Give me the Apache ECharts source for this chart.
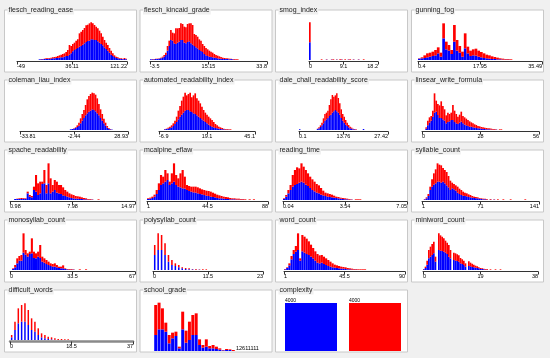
<!DOCTYPE html>
<html><head><meta charset="utf-8">
<script src="https://cdn.jsdelivr.net/npm/echarts@6/dist/echarts.min.js"></script>
<style>html,body{margin:0;padding:0;background:#f0f0f0;overflow:hidden}#c{width:550px;height:358px}</style>
</head><body><div id="c"></div><script>
// ---------- DATA (bar heights, total = blue + red) ----------
const fleschReadingEaseTotal=[0,0,0,0,0,0,0,0,0,0,0,0,0,2,3,3,4,5,5,6,7,8,9,10,12,14,16,18,20,24,30,45,42,48,52,58,62,80,85,90,96,104,106,110,113,110,105,100,95,88,80,70,60,52,45,36,28,20,14,10,8,6,5,4,6,4];
const fleschReadingEaseBlue=[0,0,0,0,0,0,0,0,0,0,0,0,0,2,2,2,3,3,3,4,4,5,5,6,6,7,8,8,10,12,12,16,20,26,30,33,36,40,42,46,50,54,57,58,62,62,60,60,56,52,48,44,38,33,28,22,16,12,9,6,5,4,3,2,3,2];
const fleschKincaidTotal=[2,3,3,4,4,5,7,10,15,22,42,58,90,82,80,95,95,96,110,108,100,98,108,110,110,105,78,75,70,62,58,48,42,36,32,28,25,22,18,15,13,11,9,7,6,5,5,4,4,3,3,2,2];
const fleschKincaidBlue=[2,2,2,3,3,4,5,7,10,15,28,42,60,58,50,48,52,55,60,60,52,50,54,56,50,46,42,38,35,30,27,24,18,14,12,10,9,8,7,6,5,4,4,3,3,3,3,2,3,2,1,0,0];
const smogTotal=[113,0,0,0,0,0,0,2,0,0,2,0,0,2,2,0,2,0,2,2,0,2,0,2,2,0,2,0,0,2,0,0,2];
const smogBlue=[53,0,0,0,0,0,0,0,0,0,1,0,0,1,0,0,1,0,0,1,0,0,0,1,0,0,1,0,0,1,0,0,0];
const gunningTotal=[5,8,14,20,22,25,30,38,22,110,55,45,30,105,60,42,25,80,40,28,32,34,28,24,20,16,14,11,9,7,5,4,3,3,2];
const gunningBlue=[4,5,6,8,10,12,14,20,10,65,32,28,18,55,28,22,10,35,20,12,14,13,10,8,6,5,4,3,3,2,2,1,1,1,0];
const colemanTotal=[0,0,0,0,0,0,0,0,0,0,0,0,0,0,0,0,0,0,0,0,0,0,0,0,0,0,0,0,0,0,2,3,5,8,14,22,35,48,60,75,92,102,108,112,110,106,95,78,62,48,34,22,12,6,3,1];
const colemanBlue=[0,0,0,0,0,0,0,0,0,0,0,0,0,0,0,0,0,0,0,0,0,0,0,0,0,0,0,0,0,0,2,3,4,6,9,13,20,28,36,44,50,55,58,62,60,56,50,44,36,28,20,13,7,4,2,1];
const automatedTotal=[0,0,0,3,4,7,10,14,20,28,40,58,72,88,100,112,104,108,112,98,104,110,95,88,80,70,60,52,46,40,35,30,24,18,14,10,8,6,4,3,3,2,2];
const automatedBlue=[0,0,0,2,3,4,6,8,12,18,24,32,40,46,52,58,60,60,56,54,50,48,44,40,36,32,28,24,20,16,12,10,8,6,5,4,3,2,2,1,1,1,0];
const daleChallTotal=[2,0,0,0,0,0,0,0,0,0,0,0,4,8,14,22,35,48,52,58,75,92,105,100,104,110,96,80,62,48,40,30,22,15,10,7,4,3,2,0,0,0,0,3];
const daleChallBlue=[2,0,0,0,0,0,0,0,0,0,0,0,3,5,9,14,20,28,32,36,42,46,52,56,60,56,52,46,36,28,22,16,12,8,5,4,2,2,1,0,0,0,0,3];
const linsearTotal=[0,0,8,28,38,42,58,110,88,78,74,86,72,62,44,52,48,52,75,58,48,40,46,55,42,38,34,30,26,23,20,17,15,12,11,9,8,7,6,5,5,4,3,3,2,0,2,2];
const linsearBlue=[0,0,4,14,22,28,40,52,55,45,36,36,32,28,20,24,26,30,30,24,20,18,22,25,20,16,14,12,10,10,8,7,6,5,5,4,3,3,2,2,2,1,1,1,1,0,0,0];
const spacheTotal=[0,0,3,4,5,6,6,5,25,15,12,40,75,50,55,55,90,45,110,65,45,60,55,45,45,38,30,25,20,17,15,12,11,10,8,6,5,3,3,2,0,0,2];
const spacheBlue=[0,0,3,3,3,3,4,3,20,10,8,30,25,15,20,48,50,20,50,20,25,30,22,20,18,14,12,10,8,6,5,4,4,3,3,2,2,1,1,1,0,0,0];
const mcalpineTotal=[5,7,10,16,30,50,75,70,90,80,55,80,110,75,65,80,90,70,45,42,40,40,40,38,35,32,30,28,27,25,22,19,16,14,12,10,9,8,6,5,5,4,4,3,3,2,0,2,0,2];
const mcalpineBlue=[3,4,6,10,18,30,45,50,55,60,45,50,55,45,40,38,35,34,30,27,25,23,22,20,18,17,15,13,12,10,9,8,6,5,5,4,3,3,2,2,2,1,1,1,1,0,0,0,0,0];
const readingTimeTotal=[5,15,30,45,75,90,98,95,110,100,90,80,70,62,55,48,44,36,28,22,20,18,16,13,10,9,7,6,5,4,3,2,0,2,2,2];
const readingTimeBlue=[3,10,20,30,40,45,48,52,55,52,46,42,36,30,26,22,20,16,14,12,10,9,8,7,6,5,4,3,2,2,1,1,0,0,0,0];
const syllableTotal=[0,3,8,18,40,62,80,92,110,106,104,96,90,84,72,58,52,48,44,40,34,30,25,22,20,17,15,12,10,9,8,6,5,4,4,3,0,3,0,2,0,2,0,0,2,0,0,0,2,0,0,0,0,0,0,0,2];
const syllableBlue=[0,2,5,12,30,40,46,50,55,55,52,55,50,44,38,30,35,32,28,22,18,15,13,12,11,9,8,7,6,5,5,4,3,2,2,1,0,1,0,1];
const monosyllabTotal=[0,5,15,35,42,45,110,60,50,55,95,55,50,55,75,40,35,30,25,20,18,20,15,10,10,14,5,3,3,3,2,0,0,2,0,0,2];
const monosyllabBlue=[0,3,8,20,28,28,52,46,40,48,50,36,35,40,36,25,22,18,15,12,10,10,8,6,5,5,3,2,1,1,1];
const polysyllabTotal=[75,110,105,80,45,30,20,15,8,6,5,3,3,2,2,2];
const polysyllabBlue=[45,60,60,45,25,15,12,8,5,3,2,2,1,1,0,0];
const wordCountTotal=[3,8,20,42,60,72,110,35,105,100,94,86,76,66,56,48,44,45,40,35,30,25,20,16,14,12,10,9,8,6,5,4,3,3,2,2,2,2];
const wordCountBlue=[2,6,14,32,48,55,60,28,56,52,48,45,40,35,28,22,20,22,18,15,12,10,8,7,6,5,4,4,3,2,2,1,1,1,0,0,0,0];
const miniwordTotal=[3,10,28,60,70,78,85,40,0,110,104,100,95,88,82,75,60,0,52,50,47,44,36,32,28,20,0,26,22,19,16,13,11,8,6,5,4,3,3,0,2,0,0,2,0,0,2];
const miniwordBlue=[2,6,16,35,40,45,50,25,0,60,58,57,55,52,48,40,35,0,30,28,27,25,20,18,15,10,0,12,11,9,8,7,6,5,3,3,2,1,1];
const difficultTotal=[15,55,95,105,110,90,65,55,35,20,15,10,8,5,3,3,2,2];
const difficultBlue=[8,30,50,55,55,45,30,25,15,8,5,3,2,1,0,0,0,0];
const schoolGradeTotal=[138,145,128,85,48,55,58,13,118,61,88,108,113,35,18,35,15,18,13,8,3,6,5,3];
const schoolGradeBlue=[48,65,65,58,23,38,45,8,65,25,33,48,48,18,10,13,8,8,6,4,2,3,3,0];
const complexityValues=[4000,4000];
const complexityLabels=['4000','4000'];
const schoolGradeText='12611111';

const titles=['flesch_reading_ease','flesch_kincaid_grade','smog_index','gunning_fog','coleman_liau_index','automated_readability_index','dale_chall_readability_score','linsear_write_formula','spache_readability','mcalpine_eflaw','reading_time','syllable_count','monosyllab_count','polysyllab_count','word_count','miniword_count','difficult_words','school_grade','complexity'];
const tickLabels=[['-49','36.11','121.22'],['-3.5','15.15','33.8'],['0','9.1','18.2'],['0.4','17.95','35.49'],['-33.81','-2.44','28.93'],['-6.9','19.1','45.1'],['0.1','13.76','27.42'],['0','28','56'],['0.98','7.98','14.97'],['1','44.5','88'],['0.04','3.54','7.05'],['1','71','141'],['0','33.5','67'],['0','11.5','23'],['1','45.5','90'],['0','19','38'],['0','18.5','37']];
const histTotals=[fleschReadingEaseTotal,fleschKincaidTotal,smogTotal,gunningTotal,colemanTotal,automatedTotal,daleChallTotal,linsearTotal,spacheTotal,mcalpineTotal,readingTimeTotal,syllableTotal,monosyllabTotal,polysyllabTotal,wordCountTotal,miniwordTotal,difficultTotal];
const histBlues=[fleschReadingEaseBlue,fleschKincaidBlue,smogBlue,gunningBlue,colemanBlue,automatedBlue,daleChallBlue,linsearBlue,spacheBlue,mcalpineBlue,readingTimeBlue,syllableBlue,monosyllabBlue,polysyllabBlue,wordCountBlue,miniwordBlue,difficultBlue];

// ---------- LAYOUT ----------
const colX=[4.5,140,275.5,411.5], rowY=[10,80,150,220,290], panelW=132, panelH=62;
const binCount=[66,70,41,46,65,57,60,70,60,56,57,64,60,32,56,69,37];
const axisSpan=[[17,127],[150,267],[309,378],[418,542],[20,128],[159,255],[299,388],[422,539],[10,135],[147,268],[283,407],[422,539],[10,135],[153,263],[284,405],[423,538],[10,133]];
const gapPct={13:'55%',16:'55%'};

const BLUE='#0000ff', RED='#ff0000', FONT='Liberation Sans';
const grid=[],xAxis=[],yAxis=[],series=[],graphic=[];

titles.forEach((t,k)=>{
  const x=colX[k%4], y=rowY[Math.floor(k/4)];
  graphic.push({type:'rect',z:0,silent:true,shape:{x:x,y:y,width:panelW,height:panelH},style:{fill:'#fff',stroke:'#c8c8c8',lineWidth:1}});
  graphic.push({type:'text',z:100,silent:true,x:x+3,y:y,style:{text:t,fontSize:7,fontFamily:FONT,fill:'#222',backgroundColor:'#f0f0f0',padding:[1,1],verticalAlign:'middle'}});
});

histTotals.forEach((tot,k)=>{
  const top=rowY[Math.floor(k/4)];
  const [a,b]=axisSpan[k];
  grid.push({left:a,width:b-a,top:top+3,height:47});
  const cat=Array.from({length:binCount[k]},(_,i)=>i);
  const ci=xAxis.length;
  xAxis.push({type:'category',gridIndex:k,data:cat,show:false,boundaryGap:true});
  xAxis.push({type:'value',gridIndex:k,position:'bottom',offset:1.5,min:0,max:2,interval:1,
    axisLine:{show:true,onZero:false,lineStyle:{color:k===16?'#8a8a8a':'#333',width:k===16?2.5:1}},
    axisTick:{show:true,length:3,lineStyle:{color:'#333'}},
    splitLine:{show:false},
    axisLabel:{fontSize:5.5,fontFamily:FONT,color:'#000',margin:2,alignMinLabel:'left',alignMaxLabel:'right',
      formatter:(v)=>tickLabels[k][Math.round(v)]}});
  yAxis.push({type:'value',gridIndex:k,min:0,max:141,show:false});
  const blue=histBlues[k];
  const red=tot.map((v,i)=>v-(blue[i]||0));
  const gap=gapPct[k]||'0%';
  series.push({type:'bar',xAxisIndex:ci,yAxisIndex:k,stack:'s'+k,data:blue,barCategoryGap:gap,itemStyle:{color:BLUE},silent:true});
  series.push({type:'bar',xAxisIndex:ci,yAxisIndex:k,stack:'s'+k,data:red,barCategoryGap:gap,itemStyle:{color:RED},silent:true});
});

// school_grade (no axis)
{
  const k=grid.length;
  grid.push({left:154,width:81,top:301,height:50});
  xAxis.push({type:'category',gridIndex:k,data:schoolGradeTotal.map((_,i)=>i),show:false});
  yAxis.push({type:'value',gridIndex:k,min:0,max:150,show:false});
  const ci=xAxis.length-1;
  const red=schoolGradeTotal.map((v,i)=>v-schoolGradeBlue[i]);
  series.push({type:'bar',xAxisIndex:ci,yAxisIndex:k,stack:'sg',data:schoolGradeBlue,barCategoryGap:'12%',itemStyle:{color:BLUE},silent:true});
  series.push({type:'bar',xAxisIndex:ci,yAxisIndex:k,stack:'sg',data:red,barCategoryGap:'12%',itemStyle:{color:RED},silent:true});
  graphic.push({type:'text',z:100,silent:true,x:236,y:348,style:{text:schoolGradeText,fontSize:5.5,fontFamily:FONT,fill:'#000',verticalAlign:'middle'}});
}
// complexity
{
  const k=grid.length;
  grid.push({left:279,width:128,top:303,height:48});
  xAxis.push({type:'category',gridIndex:k,data:['0','1'],show:false});
  yAxis.push({type:'value',gridIndex:k,min:0,max:4000,show:false});
  const ci=xAxis.length-1;
  series.push({type:'bar',xAxisIndex:ci,yAxisIndex:k,barWidth:52,silent:true,
    data:complexityValues.map((v,i)=>({value:v,itemStyle:{color:i===0?BLUE:RED}})),
    label:{show:true,position:[0,0],align:'left',verticalAlign:'bottom',fontSize:5,fontFamily:FONT,color:'#000',
      formatter:(p)=>complexityLabels[p.dataIndex]}});
}

const chart=echarts.init(document.getElementById('c'),null,{renderer:'canvas'});
chart.setOption({animation:false,backgroundColor:'#f0f0f0',textStyle:{fontFamily:FONT},grid,xAxis,yAxis,series,graphic});
</script></body></html>
